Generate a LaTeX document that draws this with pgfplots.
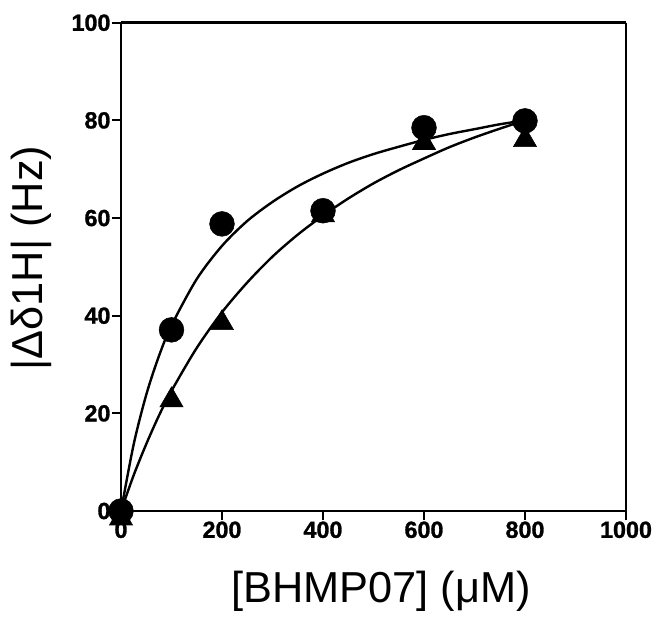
\documentclass[border=0pt]{standalone}
\usepackage{pgfplots}
\pgfplotsset{compat=1.18}
\usepackage{fontspec}
\setmainfont{Liberation Sans}
\newfontfamily\tickfont[FakeBold=1.2]{Liberation Sans Bold}

\begin{document}
\begin{tikzpicture}
\begin{axis}[
  name=ax,
  scale only axis,
  width=378.75pt, height=366.2pt,
  xmin=0, xmax=1000, ymin=0, ymax=100,
  xtick={0,200,400,600,800,1000},
  ytick={0,20,40,60,80,100},
  tick align=outside,
  xtick pos=bottom, ytick pos=left,
  major tick length=6.5pt,
  tick style={line width=1.6pt, black},
  axis line style={line width=2pt},
  axis x line*=bottom, axis y line*=left,
  ticklabel style={font=\fontsize{17.5}{18}\tickfont, inner sep=1.2pt},
  /pgf/number format/assume math mode=true,
  /pgf/number format/1000 sep={},
  xlabel={[BHMP07] (μM)},
  ylabel={|Δδ1H| (Hz)},
  label style={font=\fontsize{32.5}{34}\selectfont},
  xlabel style={at={(axis description cs:0.515,-0.1864)}, anchor=base},
  ylabel style={at={(axis description cs:-0.178,0.518)}, anchor=center},
  clip=false,
]
% box top and right
\draw[line width=2pt] (axis cs:0,100) -- (axis cs:1000,100);
\draw[line width=1.5pt] (axis cs:1000,100) -- (axis cs:1000,0);
% fitted curve, circles
\addplot[black, line width=1.8pt, smooth] coordinates {
  (0,0)(25,13.6)(50,23.8)(75,31.7)(100,38.0)(150,47.5)(200,54.3)
  (250,59.4)(300,63.3)(350,66.5)(400,69.1)(450,71.3)(500,73.1)
  (550,74.6)(600,76.0)(650,77.2)(700,78.2)(750,79.2)(800,80.0)
};
% fitted curve, triangles
\addplot[black, line width=1.8pt, smooth] coordinates {
  (0,0)(25,7.3)(50,13.7)(75,19.5)(100,24.6)(150,33.4)(200,40.7)
  (250,46.8)(300,52.1)(350,56.6)(400,60.5)(450,64.0)(500,67.1)
  (550,69.8)(600,72.2)(650,74.5)(700,76.5)(750,78.3)(800,80.0)
};
\addplot[only marks, mark=triangle*, mark size=10pt, black] coordinates {
  (0,-1.5)(100,22.7)(200,38.5)(400,60.6)(600,75.4)(800,76.0)
};
\addplot[only marks, mark=*, mark size=9.3pt, black] coordinates {
  (0,0)(100,37.1)(200,58.8)(400,61.5)(600,78.5)(800,79.9)
};
\end{axis}
\pgfresetboundingbox
\path ([xshift=-90.75pt,yshift=-84.75pt]ax.south west)
  rectangle ([xshift=404.25pt,yshift=383.25pt]ax.south west);
\end{tikzpicture}
\end{document}
